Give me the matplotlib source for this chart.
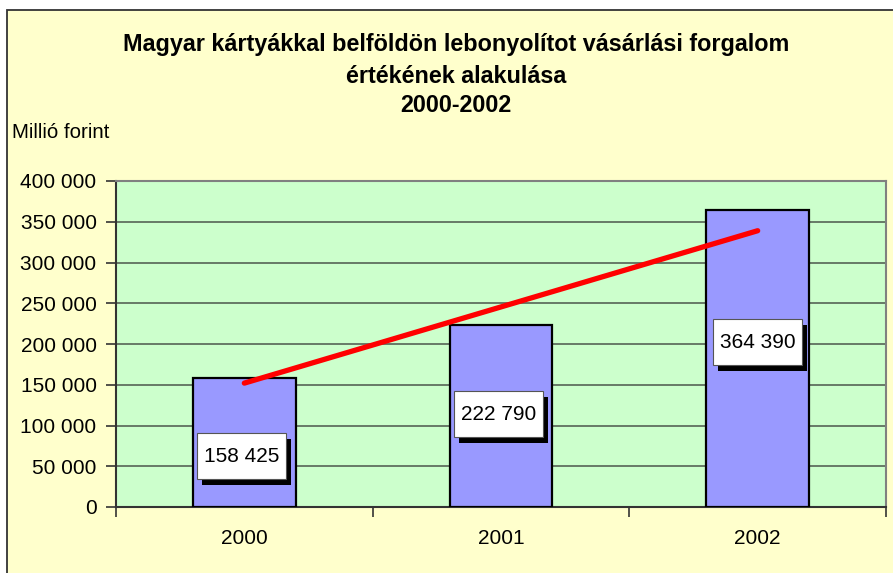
import numpy as np
import matplotlib.pyplot as plt
import matplotlib.transforms as mtransforms
from matplotlib.patches import Rectangle
from matplotlib.ticker import FuncFormatter, FixedLocator

plt.rcParams['font.family'] = ['Liberation Sans', 'DejaVu Sans']

# data
years = ['2000', '2001', '2002']
values = [158425, 222790, 364390]
trend_ends = [152000, 339000]      # red trend line at 2000 and 2002
title_lines = ['Magyar kártyákkal belföldön lebonyolítot vásárlási forgalom',
               'értékének alakulása',
               '2000-2002']

# where the value boxes sit (data units)
label_y = [62000, 114000, 202000]
label_dx = [-0.01, -0.01, 0.0]

W, H = 893, 573
fig = plt.figure(figsize=(W/100, H/100), dpi=100)
fig.patch.set_facecolor('white')

# chart area (yellow) with dark border on left/top
bg = Rectangle((7/W, -0.02), 1.1, 1 - 10/H + 0.02, transform=fig.transFigure,
               facecolor='#FFFFCC', edgecolor='#333333', linewidth=1.3, zorder=-10)
fig.patches.append(bg)

ax = fig.add_axes([116/W, 1 - 507/H, (886-116)/W, (507-181)/H])
ax.set_facecolor('#CCFFCC')

x = np.arange(len(years))
ax.bar(x, values, width=0.4, color='#9999FF', edgecolor='black', linewidth=1.6, zorder=3)
ax.plot([x[0], x[-1]], trend_ends, color='#FF0000', lw=3.8, solid_capstyle='round', zorder=4)

# value boxes: white box with black drop shadow, sized in inches
bw, bh = 0.89, 0.46
for i, v in enumerate(values):
    s = f'{v:,}'.replace(',', ' ')
    xc, yc = x[i] + label_dx[i], label_y[i]
    tr = fig.dpi_scale_trans + mtransforms.ScaledTranslation(xc, yc, ax.transData)
    ax.add_patch(Rectangle((-bw/2 + 0.05, -bh/2 - 0.06), bw, bh, transform=tr,
                           facecolor='black', edgecolor='none', zorder=5))
    ax.add_patch(Rectangle((-bw/2, -bh/2), bw, bh, transform=tr,
                           facecolor='white', edgecolor='#555555', linewidth=0.8, zorder=6))
    ax.text(xc, yc, s, ha='center', va='center', fontsize=15, zorder=7)

ax.set_ylim(0, 400000)
ax.set_xlim(-0.5, 2.5)
ax.yaxis.set_major_locator(FixedLocator(np.arange(0, 400001, 50000)))
ax.yaxis.set_major_formatter(FuncFormatter(lambda v, p: f'{int(v):,}'.replace(',', ' ')))
ax.grid(axis='y', color='#5f6f5f', linewidth=1.3, zorder=1)
ax.set_axisbelow(True)

ax.set_xticks(x)
ax.set_xticklabels(years)
ax.set_xticks([-0.5, 0.5, 1.5, 2.5], minor=True)
ax.tick_params(axis='x', which='major', length=0, pad=16, labelsize=15)
ax.tick_params(axis='x', which='minor', length=7, width=1.2, direction='out', color='#333333')
ax.tick_params(axis='y', length=7, width=1.2, direction='out', pad=7, labelsize=15, color='#333333')

for side in ['left', 'bottom']:
    ax.spines[side].set_color('#333333')
    ax.spines[side].set_linewidth(1.5)
for side in ['top', 'right']:
    ax.spines[side].set_color('#808080')
    ax.spines[side].set_linewidth(1.5)

tx = 456/W
for line, yp in zip(title_lines, [45, 76, 106]):
    fig.text(tx, 1 - yp/H, line, ha='center', va='center', fontsize=16.8, fontweight='bold')

fig.text(12/W, 1 - 133/H, 'Millió forint', ha='left', va='center', fontsize=14.8)

fig.savefig('out.png', dpi=100)
